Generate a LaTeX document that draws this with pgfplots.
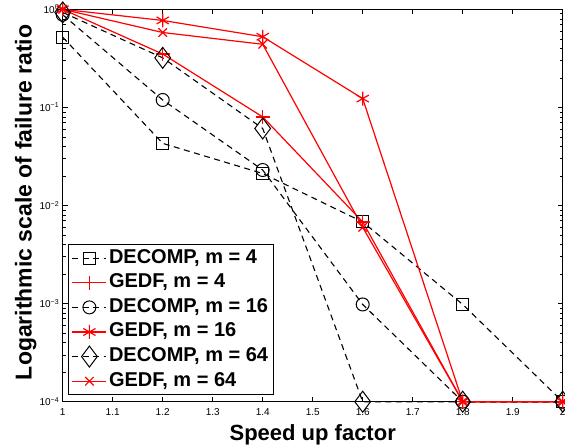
\documentclass[border=0pt]{standalone}
\usepackage{pgfplots}
\pgfplotsset{compat=1.18}
\usepackage{fontspec}
\setmainfont{Liberation Sans}
\begin{document}
\begin{tikzpicture}
\begin{axis}[
  name=ax, at={(0,0)}, anchor=south west,
  scale only axis, width=500pt, height=392.4pt,
  xmin=1, xmax=2, ymin=1e-4, ymax=1, ymode=log,
  xtick={1,1.1,1.2,1.3,1.4,1.5,1.6,1.7,1.8,1.9,2},
  xticklabels={1,1.1,1.2,1.3,1.4,1.5,1.6,1.7,1.8,1.9,2},
  ytick={1e-4,1e-3,1e-2,1e-1,1},
  yticklabels={10\textsuperscript{−4},10\textsuperscript{−3},10\textsuperscript{−2},10\textsuperscript{−1},10\textsuperscript{0}},
  tick align=inside, major tick length=5pt, minor tick length=3pt,
  every tick/.style={black, line width=0.6pt},
  axis line style={line width=1pt},
  ticklabel style={font=\fontsize{10}{12}\selectfont},
  xticklabel style={yshift=-3pt},
  clip=false,
  xlabel={\bfseries Speed up factor},
  xlabel style={font=\fontsize{22}{26}\selectfont, at={(axis description cs:0.5,0)}, anchor=base, yshift=-38.3pt},
  ylabel={\bfseries Logarithmic scale of failure ratio},
  ylabel style={font=\fontsize{23}{27}\selectfont, at={(axis description cs:0,0.508)}, anchor=base, yshift=31pt},
  legend cell align=left,
  legend image code/.code={\draw[mark repeat=2,mark phase=2] plot coordinates {(0pt,0pt) (17pt,0pt) (34pt,0pt)};},
  legend style={at={(axis description cs:0,0)}, anchor=south west, xshift=5.6pt, yshift=6.7pt,
    font=\bfseries\fontsize{20}{23}\selectfont, draw=black, line width=1pt, fill=white,
    inner xsep=3pt, inner ysep=1pt, row sep=0pt,
    nodes={inner ysep=3.3pt, text height=14pt, text depth=4pt}},
]
\addplot[black, line width=1.1pt, dash pattern=on 6pt off 4.5pt, mark=square, mark size=6pt, mark options={solid, line width=1pt}]
  coordinates {(1,0.52)(1.2,0.043)(1.4,0.0212)(1.6,0.0068)(1.8,0.00098)(2,1e-4)};
\addlegendentry{DECOMP, m = 4}
\addplot[red, line width=1.2pt, mark=+, mark size=7pt, mark options={solid}]
  coordinates {(1,1)(1.2,0.35)(1.4,0.08)(1.6,0.0068)(1.8,1e-4)(2,1e-4)};
\addlegendentry{GEDF, m = 4}
\addplot[black, line width=1.1pt, dash pattern=on 6pt off 4.5pt, mark=o, mark size=6.5pt, mark options={solid, line width=1pt}]
  coordinates {(1,0.88)(1.2,0.119)(1.4,0.023)(1.6,0.00098)(1.8,1e-4)(2,1e-4)};
\addlegendentry{DECOMP, m = 16}
\addplot[red, line width=1.2pt, mark=asterisk, mark size=7pt, mark options={solid}]
  coordinates {(1,1)(1.2,0.77)(1.4,0.525)(1.6,0.123)(1.8,1e-4)(2,1e-4)};
\addlegendentry{GEDF, m = 16}
\addplot[black, line width=1.1pt, dash pattern=on 6pt off 4.5pt, mark=diamond, mark size=10.5pt, mark options={solid, line width=1pt}]
  coordinates {(1,0.93)(1.2,0.32)(1.4,0.061)(1.6,1e-4)(1.8,1e-4)(2,1e-4)};
\addlegendentry{DECOMP, m = 64}
\addplot[red, line width=1.2pt, mark=x, mark size=6pt, mark options={solid}]
  coordinates {(1,1)(1.2,0.58)(1.4,0.44)(1.6,0.006)(1.8,1e-4)(2,1e-4)};
\addlegendentry{GEDF, m = 64}
\end{axis}
\pgfresetboundingbox
\path[use as bounding box] ([xshift=-62.7pt,yshift=-44.3pt]ax.south west) rectangle ([xshift=2.3pt,yshift=9.3pt]ax.north east);
\end{tikzpicture}
\end{document}
